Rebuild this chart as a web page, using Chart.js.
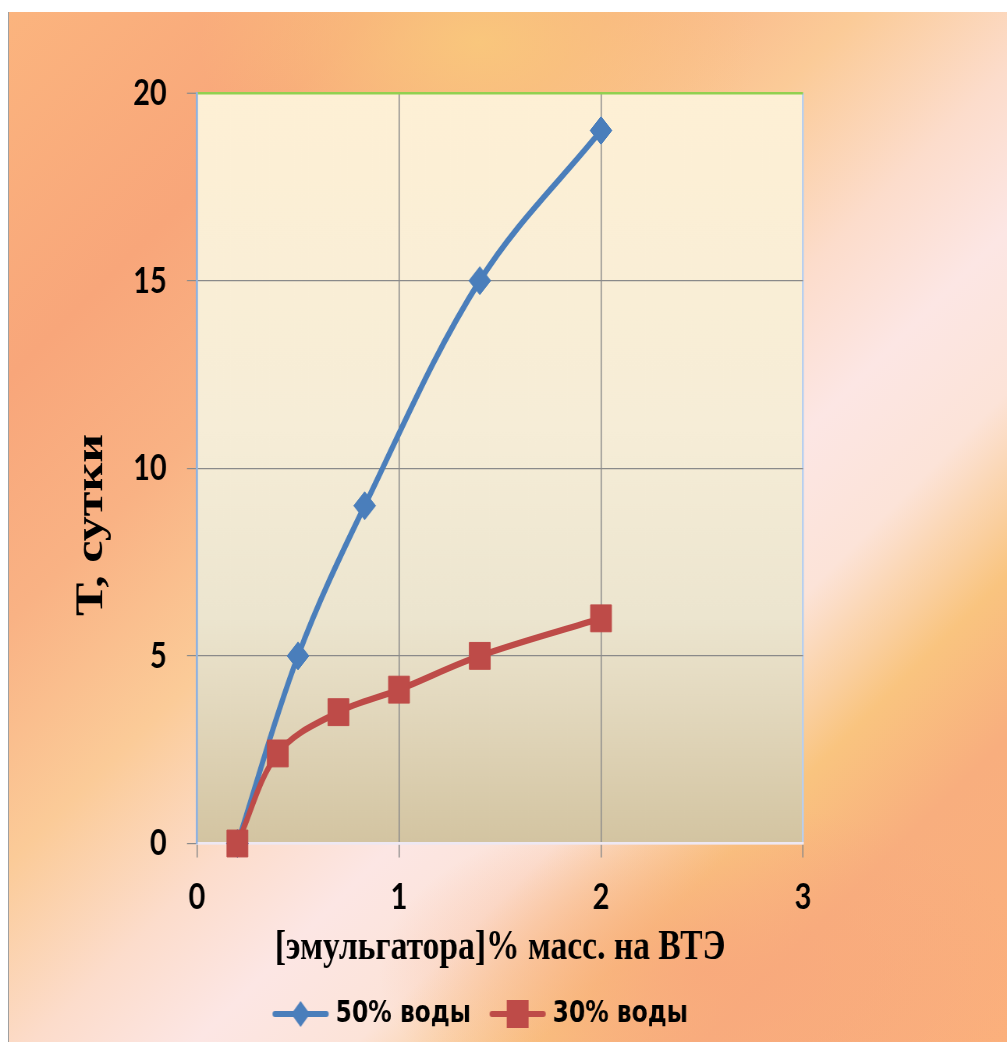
<!DOCTYPE html>
<html lang="ru">
<head>
<meta charset="utf-8">
<title>Т, сутки — [эмульгатора]% масс. на ВТЭ</title>
<script src="https://cdn.jsdelivr.net/npm/chart.js@4/dist/chart.umd.min.js"></script>
<style>
  html, body { margin: 0; padding: 0; width: 1007px; height: 1042px; overflow: hidden; background: #fff; }
  #bg {
    position: absolute; left: 8px; top: 12px; width: 999px; height: 1030px;
    border-left: 1px solid #a0a0a0; box-sizing: border-box;
    background:
      radial-gradient(ellipse 280px 170px at 470px 30px, rgba(249,201,124,0.9), rgba(249,201,124,0) 100%),
      radial-gradient(ellipse 330px 170px at 700px 960px, rgba(248,168,124,0.85), rgba(248,168,124,0) 100%),
      linear-gradient(135deg, #FBB47E 0%, #F8A67A 18%, #F9B284 30%, #FBCB98 42%, #FCDCCB 52%, #FCE6E4 60%, #FCE3D8 68%, #F9C47F 77%, #F8AE7E 85%, #FBB07C 100%);
  }
  #wrap { position: absolute; left: 0; top: 0; width: 1291px; height: 1042px; transform-origin: 0 0; }
  canvas { display: block; }
</style>
</head>
<body>
<div id="bg"></div>
<div id="wrap"><canvas id="c" width="1291" height="1042"></canvas></div>
<script>
// Emulsion stability (days) vs. emulsifier content, two water fractions
const emulsifier50 = [0.2, 0.5, 0.83, 1.4, 2.0];
const days50       = [0, 5, 9, 15, 19];
const emulsifier30 = [0.2, 0.4, 0.7, 1.0, 1.4, 2.0];
const days30       = [0, 2.4, 3.5, 4.1, 5, 6];

const seriesLabels = ['50% воды', '30% воды'];
const xTickValues  = [0, 1, 2, 3];
const yTickValues  = [0, 5, 10, 15, 20];
const xTitleText   = '[эмульгатора]% масс. на ВТЭ';
const yTitleText   = 'Т, сутки';

const BLUE = '#4A7EBB';
const RED  = '#BE4B48';

// The drawing is made on a wider canvas and narrowed horizontally
const W = 1291, H = 1042, SX = 1007 / W;
document.getElementById('wrap').style.transform = 'scaleX(' + SX + ')';
const px = v => v / SX;   // screen pixels -> canvas pixels (horizontal)

// legend swatches: line with marker
function swatch(color, shape) {
  const c = document.createElement('canvas');
  c.width = 74; c.height = 36;
  const g = c.getContext('2d');
  g.strokeStyle = color; g.fillStyle = color;
  g.lineWidth = 6; g.lineCap = 'round';
  g.beginPath(); g.moveTo(4, 18); g.lineTo(70, 18); g.stroke();
  g.beginPath();
  if (shape === 'diamond') {
    g.moveTo(37 - 12, 18); g.lineTo(37, 18 - 13); g.lineTo(37 + 12, 18); g.lineTo(37, 18 + 13);
    g.closePath(); g.fill();
  } else {
    g.fillRect(37 - 14, 18 - 14, 28, 28);
  }
  return c;
}
const swatches = [swatch(BLUE, 'diamond'), swatch(RED, 'square')];

const toPoints = (xs, ys) => xs.map((x, i) => ({ x, y: ys[i] }));

// plot area fill
const plotFill = {
  id: 'plotFill',
  beforeDraw(chart) {
    const { ctx, chartArea: a } = chart;
    const g = ctx.createLinearGradient(0, a.top, 0, a.bottom);
    g.addColorStop(0.00, '#FEF0D5');
    g.addColorStop(0.45, '#F6EDD7');
    g.addColorStop(0.70, '#ECE5CF');
    g.addColorStop(0.80, '#E4DAC0');
    g.addColorStop(1.00, '#D3C4A1');
    ctx.save();
    ctx.fillStyle = g;
    ctx.fillRect(a.left, a.top, a.right - a.left, a.bottom - a.top);
    ctx.restore();
  }
};

// rotated value-axis title
const yAxisTitle = {
  id: 'yAxisTitle',
  afterDraw(chart) {
    const { ctx } = chart;
    ctx.save();
    ctx.translate(px(92), 525);
    ctx.rotate(-Math.PI / 2);
    ctx.font = 'bold 50px "Liberation Serif"';
    ctx.fillStyle = '#000';
    ctx.textAlign = 'center';
    ctx.textBaseline = 'middle';
    ctx.fillText(yTitleText, 0, 0);
    ctx.restore();
  }
};

const GRID = '#8A8A8A';

new Chart(document.getElementById('c'), {
  type: 'line',
  data: {
    datasets: [
      {
        label: seriesLabels[0],
        data: toPoints(emulsifier50, days50),
        borderColor: BLUE, backgroundColor: BLUE,
        borderWidth: 6.5, tension: 0.35,
        pointStyle: 'rectRot', pointRadius: 14, pointBorderWidth: 1,
        pointBackgroundColor: BLUE, pointBorderColor: BLUE,
        clip: false, order: 1
      },
      {
        label: seriesLabels[1],
        data: toPoints(emulsifier30, days30),
        borderColor: RED, backgroundColor: RED,
        borderWidth: 6.5, tension: 0.35,
        pointStyle: 'rect', pointRadius: 19, pointBorderWidth: 1,
        pointBackgroundColor: RED, pointBorderColor: RED,
        clip: false, order: 0
      }
    ]
  },
  options: {
    responsive: false,
    animation: false,
    devicePixelRatio: 1,
    layout: { padding: { left: px(8), right: px(50), top: 93, bottom: 3 } },
    plugins: {
      tooltip: { enabled: false },
      legend: {
        position: 'bottom',
        labels: {
          usePointStyle: true,
          pointStyleWidth: 60,
          boxHeight: 30,
          padding: 30,
          color: '#000',
          font: { family: 'DejaVu Sans', size: 30, weight: 'bold' },
          sort: (a, b) => a.datasetIndex - b.datasetIndex,
          generateLabels: chart => chart.data.datasets.map((ds, i) => ({
            text: ds.label,
            pointStyle: swatches[i],
            fillStyle: ds.borderColor,
            strokeStyle: ds.borderColor,
            fontColor: '#000',
            lineWidth: 0,
            hidden: false,
            datasetIndex: i
          }))
        }
      }
    },
    scales: {
      x: {
        type: 'linear', position: 'bottom', min: 0, max: 3,
        afterBuildTicks: s => { s.ticks = xTickValues.map(v => ({ value: v })); },
        afterFit: s => { s.height = 125.5; },
        grid: {
          color: c => c.tick.value === 0 ? '#8FB2E0' : (c.tick.value === 3 ? '#B7CFEF' : GRID),
          lineWidth: c => c.tick.value === 3 ? 2.5 : 1.5,
          tickLength: 14, tickColor: GRID, tickWidth: 1.5
        },
        border: { color: '#EEE8F3', width: 2.5 },
        ticks: { color: '#000', padding: 17, font: { family: 'Lato', size: 37, weight: 'bold' } },
        title: {
          display: true, text: xTitleText, color: '#000',
          font: { family: 'Liberation Serif', size: 43, weight: 'bold', lineHeight: 1 },
          padding: { top: 0, bottom: 0 }
        }
      },
      y: {
        type: 'linear', position: 'left', min: 0, max: 20,
        afterBuildTicks: s => { s.ticks = yTickValues.map(v => ({ value: v })); },
        afterFit: s => { s.width = px(189); },
        grid: {
          color: c => c.tick.value === 20 ? '#92D050' : (c.tick.value === 0 ? '#EEE8F3' : GRID),
          lineWidth: c => c.tick.value === 20 ? 2.5 : 1.2,
          tickLength: px(10), tickColor: GRID, tickWidth: 1.2
        },
        border: { color: '#8FB2E0', width: 2.5 },
        ticks: { color: '#000', padding: 26, font: { family: 'Lato', size: 37, weight: 'bold' } },
        title: { display: false }
      },
      yRight: {
        type: 'linear', position: 'right', display: true,
        afterFit: s => { s.width = px(154); },
        grid: { display: false, drawTicks: false },
        border: { display: false },
        ticks: { display: false }
      }
    }
  },
  plugins: [plotFill, yAxisTitle]
});
</script>
</body>
</html>
